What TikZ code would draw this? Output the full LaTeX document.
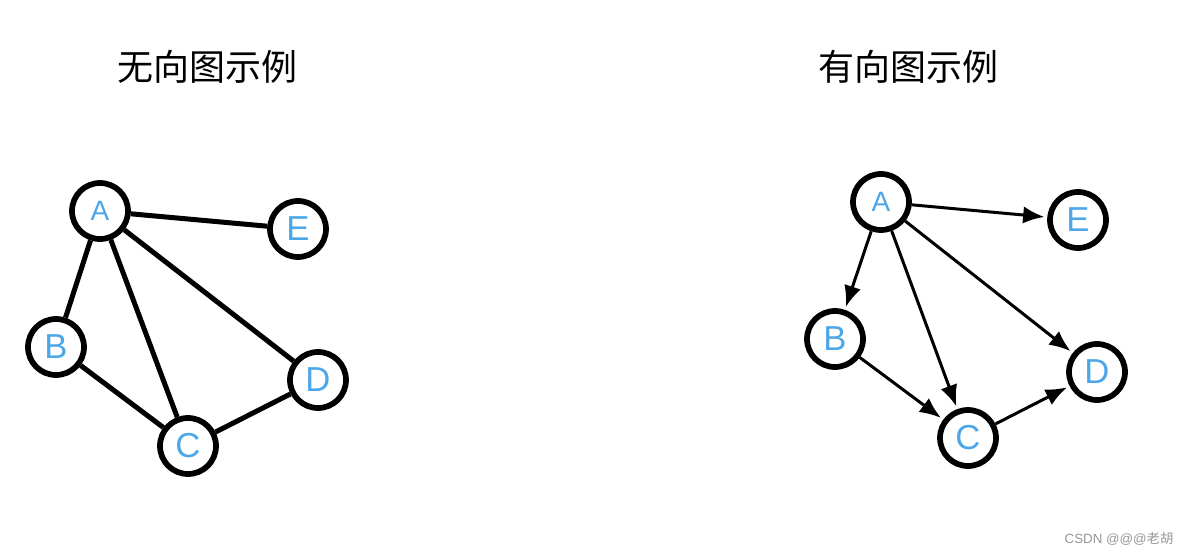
\documentclass[tikz,border=0pt]{standalone}
\usepackage{fontspec}
\setmainfont{Liberation Sans}
\newfontfamily\cjk{Noto Sans CJK SC}
\usetikzlibrary{arrows.meta,positioning}
\definecolor{lblue}{RGB}{77,166,232}
\definecolor{wgray}{RGB}{150,150,150}

\begin{document}
\begin{tikzpicture}[>={Latex[length=16pt,width=13pt]},x=.75pt,y=-.75pt,
  vtx/.style={draw,circle,line width=4.3pt,minimum size=42pt,inner sep=0pt,
    text=lblue,font=\fontsize{26}{26}\selectfont},
  small/.style={font=\fontsize{21}{21}\selectfont},
  uedge/.style={line width=3.75pt},
  dedge/.style={->,line width=2.25pt,shorten >=2.1pt},
  title/.style={font=\cjk\fontsize{27}{27}\selectfont}]
\useasboundingbox (0,0) rectangle (1184,555);
% undirected graph
\node[title] (utitle) at (207,67) {无向图示例};
\node[vtx,small] (uA) at (100,211) {A};
\node[vtx] (uB) at (56,347) {B};
\node[vtx] (uC) at (188,446) {C};
\node[vtx] (uD) at (318,380) {D};
\node[vtx] (uE) at (298,229) {E};
\draw[uedge] (uA)--(uE); \draw[uedge] (uA)--(uB); \draw[uedge] (uA)--(uC);
\draw[uedge] (uA)--(uD); \draw[uedge] (uB)--(uC); \draw[uedge] (uC)--(uD);
% directed graph
\node[title] (dtitle) at (908,67) {有向图示例};
\node[vtx,small] (dA) at (881,202) {A};
\node[vtx] (dB) at (835,339) {B};
\node[vtx] (dC) at (968,438) {C};
\node[vtx] (dD) at (1097,372) {D};
\node[vtx] (dE) at (1078,220) {E};
\draw[dedge] (dA)--(dE); \draw[dedge] (dA)--(dB); \draw[dedge] (dA)--(dC);
\draw[dedge] (dA)--(dD); \draw[dedge] (dB)--(dC); \draw[dedge] (dC)--(dD);
\node[text=wgray,font=\fontsize{10}{10}\selectfont] (mark) at (1119,539) {CSDN @@@{\cjk 老胡}};
\end{tikzpicture}
\end{document}
